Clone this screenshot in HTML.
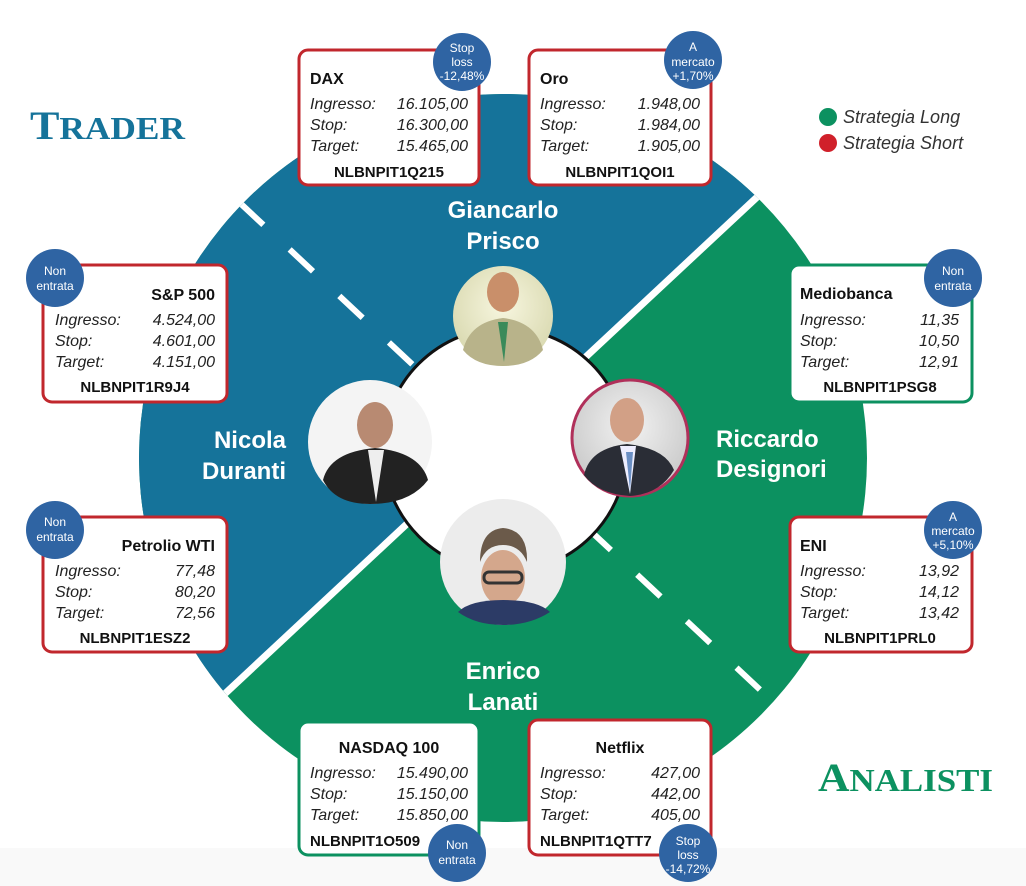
<!DOCTYPE html>
<html><head><meta charset="utf-8"><style>
html,body{margin:0;padding:0;background:#fff;width:1026px;height:886px;overflow:hidden;}
svg{display:block;font-family:"Liberation Sans",sans-serif;}
.t{font-weight:bold;font-size:16px;fill:#111;}
.r{font-style:italic;font-size:16px;fill:#222;}
.c{font-weight:bold;font-size:15px;fill:#111;}
.n{font-weight:bold;font-size:24px;fill:#fff;}
.b{font-size:12px;fill:#fff;text-anchor:middle;}
</style></head><body>
<svg width="1026" height="886" viewBox="0 0 1026 886">
<defs>
<clipPath id="big"><circle cx="503" cy="458" r="364"/></clipPath>
<radialGradient id="pg" cx="50%" cy="40%" r="60%"><stop offset="0" stop-color="#f2f2f2"/><stop offset="1" stop-color="#c9c9c9"/></radialGradient>
<radialGradient id="py" cx="50%" cy="40%" r="60%"><stop offset="0" stop-color="#f7f6df"/><stop offset="1" stop-color="#d9d9b0"/></radialGradient>
</defs>
<rect x="0" y="848" width="1026" height="38" fill="#f9f9f9"/>
<g clip-path="url(#big)">
<rect x="0" y="0" width="1026" height="886" fill="#0c9160"/>
<polygon points="-100,997 1100,-123 -100,-123" fill="#15739a"/>
<line x1="-100" y1="997" x2="1100" y2="-123" stroke="#fff" stroke-width="7"/>
<line x1="240" y1="203" x2="770" y2="699" stroke="#fff" stroke-width="6" stroke-dasharray="32 36"/>
</g>
<circle cx="505" cy="450" r="122" fill="#fff" stroke="#111" stroke-width="3"/>

<g>
<circle cx="503" cy="316" r="50" fill="url(#py)"/>
<ellipse cx="503" cy="292" rx="16" ry="20" fill="#c98f6a"/>
<path d="M463,350 Q470,322 503,318 Q536,322 543,350 Q530,366 503,366 Q476,366 463,350Z" fill="#b8b38a"/>
<path d="M498,322 L508,322 L504,362Z" fill="#3a8a5a"/>
</g>
<g>
<circle cx="370" cy="442" r="62" fill="#f4f4f4"/>
<ellipse cx="375" cy="425" rx="18" ry="23" fill="#b88a72"/>
<path d="M323,480 Q330,452 375,448 Q420,452 428,480 Q410,504 370,504 Q335,504 323,480Z" fill="#222"/>
<path d="M368,450 L384,450 L376,502Z" fill="#eee"/>
</g>
<g>
<circle cx="630" cy="438" r="58" fill="url(#pg)" stroke="#b0305a" stroke-width="3"/>
<ellipse cx="627" cy="420" rx="17" ry="22" fill="#d2a086"/>
<path d="M584,475 Q590,448 627,444 Q665,448 674,470 Q660,494 630,496 Q598,494 584,475Z" fill="#2a2d36"/>
<path d="M620,446 L636,446 L630,494Z" fill="#eef"/>
<path d="M626,452 L633,452 L630,490Z" fill="#6b8fc4"/>
</g>
<g>
<circle cx="503" cy="562" r="63" fill="#ececec"/>
<ellipse cx="503" cy="578" rx="22" ry="28" fill="#d4a78c"/>
<path d="M480,562 Q480,530 503,528 Q528,530 527,562 Q520,545 503,545 Q486,545 480,562Z" fill="#6b5a4a"/>
<rect x="484" y="572" width="38" height="11" rx="5" fill="none" stroke="#333" stroke-width="3"/>
<path d="M458,612 Q470,600 503,600 Q538,600 550,612 Q530,625 503,625 Q476,625 458,612Z" fill="#2c3b66"/>
</g>

<text class="n" x="503" y="218" text-anchor="middle">Giancarlo</text>
<text class="n" x="503" y="249" text-anchor="middle">Prisco</text>
<text class="n" x="286" y="448" text-anchor="end">Nicola</text>
<text class="n" x="286" y="479" text-anchor="end">Duranti</text>
<text class="n" x="716" y="447" text-anchor="start">Riccardo</text>
<text class="n" x="716" y="477" text-anchor="start">Designori</text>
<text class="n" x="503" y="679" text-anchor="middle">Enrico</text>
<text class="n" x="503" y="710" text-anchor="middle">Lanati</text>

<text x="30" y="139" font-family="Liberation Serif,serif" font-weight="bold" font-size="40" fill="#15739a" textLength="155" lengthAdjust="spacingAndGlyphs">T<tspan font-size="32">RADER</tspan></text>
<text x="818" y="791" font-family="Liberation Serif,serif" font-weight="bold" font-size="40" fill="#0c9160" textLength="175" lengthAdjust="spacingAndGlyphs">A<tspan font-size="32">NALISTI</tspan></text>

<circle cx="828" cy="117" r="9" fill="#0c9160"/>
<circle cx="828" cy="143" r="9" fill="#d0202a"/>
<text x="843" y="123" font-style="italic" font-size="18" fill="#333">Strategia Long</text>
<text x="843" y="149" font-style="italic" font-size="18" fill="#333">Strategia Short</text>

<rect x="299" y="50" width="180" height="135" rx="9" fill="#fff" stroke="#c1272d" stroke-width="3"/>
<text class="t" x="310" y="84">DAX</text>
<text class="r" x="310" y="109">Ingresso:</text><text class="r" x="468" y="109" text-anchor="end">16.105,00</text>
<text class="r" x="310" y="130">Stop:</text><text class="r" x="468" y="130" text-anchor="end">16.300,00</text>
<text class="r" x="310" y="151">Target:</text><text class="r" x="468" y="151" text-anchor="end">15.465,00</text>
<text class="c" x="389" y="177" text-anchor="middle">NLBNPIT1Q215</text>
<circle cx="462" cy="62" r="29" fill="#2f64a3"/>
<text class="b" x="462" y="52">Stop</text><text class="b" x="462" y="66">loss</text><text class="b" x="462" y="80">-12,48%</text>

<rect x="529" y="50" width="182" height="135" rx="9" fill="#fff" stroke="#c1272d" stroke-width="3"/>
<text class="t" x="540" y="84">Oro</text>
<text class="r" x="540" y="109">Ingresso:</text><text class="r" x="700" y="109" text-anchor="end">1.948,00</text>
<text class="r" x="540" y="130">Stop:</text><text class="r" x="700" y="130" text-anchor="end">1.984,00</text>
<text class="r" x="540" y="151">Target:</text><text class="r" x="700" y="151" text-anchor="end">1.905,00</text>
<text class="c" x="620" y="177" text-anchor="middle">NLBNPIT1QOI1</text>
<circle cx="693" cy="60" r="29" fill="#2f64a3"/>
<text class="b" x="693" y="51">A</text><text class="b" x="693" y="66">mercato</text><text class="b" x="693" y="80">+1,70%</text>

<rect x="43" y="265" width="184" height="137" rx="9" fill="#fff" stroke="#c1272d" stroke-width="3"/>
<text class="t" x="215" y="300" text-anchor="end">S&amp;P 500</text>
<text class="r" x="55" y="325">Ingresso:</text><text class="r" x="215" y="325" text-anchor="end">4.524,00</text>
<text class="r" x="55" y="346">Stop:</text><text class="r" x="215" y="346" text-anchor="end">4.601,00</text>
<text class="r" x="55" y="367">Target:</text><text class="r" x="215" y="367" text-anchor="end">4.151,00</text>
<text class="c" x="135" y="392" text-anchor="middle">NLBNPIT1R9J4</text>
<circle cx="55" cy="278" r="29" fill="#2f64a3"/>
<text class="b" x="55" y="275">Non</text><text class="b" x="55" y="290">entrata</text>

<rect x="43" y="517" width="184" height="135" rx="9" fill="#fff" stroke="#c1272d" stroke-width="3"/>
<text class="t" x="215" y="551" text-anchor="end">Petrolio WTI</text>
<text class="r" x="55" y="576">Ingresso:</text><text class="r" x="215" y="576" text-anchor="end">77,48</text>
<text class="r" x="55" y="597">Stop:</text><text class="r" x="215" y="597" text-anchor="end">80,20</text>
<text class="r" x="55" y="618">Target:</text><text class="r" x="215" y="618" text-anchor="end">72,56</text>
<text class="c" x="135" y="643" text-anchor="middle">NLBNPIT1ESZ2</text>
<circle cx="55" cy="530" r="29" fill="#2f64a3"/>
<text class="b" x="55" y="526">Non</text><text class="b" x="55" y="541">entrata</text>

<rect x="790" y="265" width="182" height="137" rx="9" fill="#fff" stroke="#0c9160" stroke-width="3"/>
<text class="t" x="800" y="299">Mediobanca</text>
<text class="r" x="800" y="325">Ingresso:</text><text class="r" x="959" y="325" text-anchor="end">11,35</text>
<text class="r" x="800" y="346">Stop:</text><text class="r" x="959" y="346" text-anchor="end">10,50</text>
<text class="r" x="800" y="367">Target:</text><text class="r" x="959" y="367" text-anchor="end">12,91</text>
<text class="c" x="880" y="392" text-anchor="middle">NLBNPIT1PSG8</text>
<circle cx="953" cy="278" r="29" fill="#2f64a3"/>
<text class="b" x="953" y="275">Non</text><text class="b" x="953" y="290">entrata</text>

<rect x="790" y="517" width="182" height="135" rx="9" fill="#fff" stroke="#c1272d" stroke-width="3"/>
<text class="t" x="800" y="551">ENI</text>
<text class="r" x="800" y="576">Ingresso:</text><text class="r" x="959" y="576" text-anchor="end">13,92</text>
<text class="r" x="800" y="597">Stop:</text><text class="r" x="959" y="597" text-anchor="end">14,12</text>
<text class="r" x="800" y="618">Target:</text><text class="r" x="959" y="618" text-anchor="end">13,42</text>
<text class="c" x="880" y="643" text-anchor="middle">NLBNPIT1PRL0</text>
<circle cx="953" cy="530" r="29" fill="#2f64a3"/>
<text class="b" x="953" y="521">A</text><text class="b" x="953" y="535">mercato</text><text class="b" x="953" y="549">+5,10%</text>

<rect x="299" y="722" width="180" height="133" rx="9" fill="#fff" stroke="#0c9160" stroke-width="3"/>
<text class="t" x="389" y="753" text-anchor="middle">NASDAQ 100</text>
<text class="r" x="310" y="778">Ingresso:</text><text class="r" x="468" y="778" text-anchor="end">15.490,00</text>
<text class="r" x="310" y="799">Stop:</text><text class="r" x="468" y="799" text-anchor="end">15.150,00</text>
<text class="r" x="310" y="820">Target:</text><text class="r" x="468" y="820" text-anchor="end">15.850,00</text>
<text class="c" x="310" y="846">NLBNPIT1O509</text>
<circle cx="457" cy="853" r="29" fill="#2f64a3"/>
<text class="b" x="457" y="849">Non</text><text class="b" x="457" y="864">entrata</text>

<rect x="529" y="720" width="182" height="135" rx="9" fill="#fff" stroke="#c1272d" stroke-width="3"/>
<text class="t" x="620" y="753" text-anchor="middle">Netflix</text>
<text class="r" x="540" y="778">Ingresso:</text><text class="r" x="700" y="778" text-anchor="end">427,00</text>
<text class="r" x="540" y="799">Stop:</text><text class="r" x="700" y="799" text-anchor="end">442,00</text>
<text class="r" x="540" y="820">Target:</text><text class="r" x="700" y="820" text-anchor="end">405,00</text>
<text class="c" x="540" y="846">NLBNPIT1QTT7</text>
<circle cx="688" cy="853" r="29" fill="#2f64a3"/>
<text class="b" x="688" y="845">Stop</text><text class="b" x="688" y="859">loss</text><text class="b" x="688" y="873">-14,72%</text>
</svg>
</body></html>
